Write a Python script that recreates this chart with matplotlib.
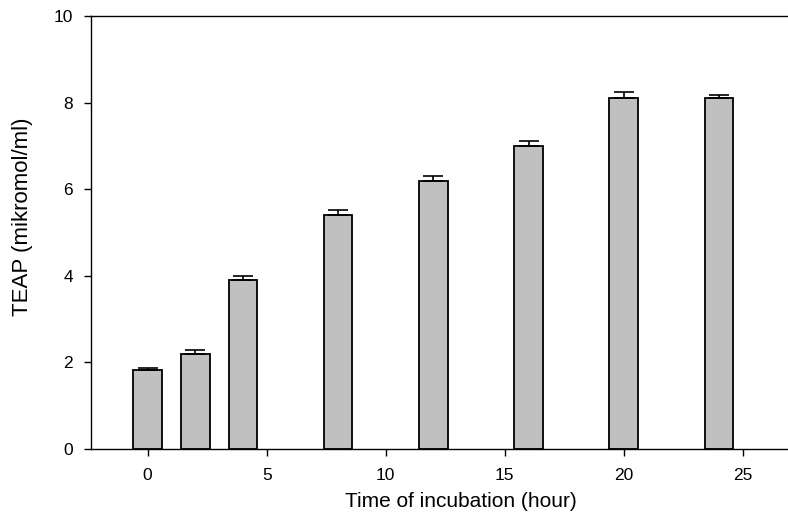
import matplotlib
matplotlib.use('Agg')
import matplotlib.pyplot as plt
import numpy as np

plt.rcParams['font.family'] = ['Liberation Sans', 'DejaVu Sans']

# data
hours = [0, 2, 4, 8, 12, 16, 20, 24]
teap = [1.82, 2.20, 3.90, 5.40, 6.20, 7.00, 8.10, 8.10]
teap_err = [0.05, 0.09, 0.10, 0.11, 0.10, 0.12, 0.14, 0.08]
xticks = [0, 5, 10, 15, 20, 25]
yticks = [0, 2, 4, 6, 8, 10]

fig = plt.figure(figsize=(7.88, 5.23), dpi=100)
ax = fig.add_axes([0.1155, 0.1415, 0.8845, 0.8279])

ax.bar(hours, teap, width=1.2, color='#c0c0c0', edgecolor='black', linewidth=1.3, zorder=2)
ax.errorbar(hours, teap, yerr=[np.zeros(len(teap_err)), teap_err], fmt='none',
            ecolor='black', elinewidth=1.2, capsize=7.5, capthick=1.2, zorder=3)

ax.set_xlim(-2.38, 26.9)
ax.set_ylim(0, 10)
ax.set_xticks(xticks)
ax.set_yticks(yticks)

ax.spines['right'].set_visible(False)
for s in ['left', 'bottom', 'top']:
    ax.spines[s].set_linewidth(1.0)

ax.tick_params(direction='out', length=5, width=1.0, labelsize=12.5)
ax.tick_params(axis='x', pad=9)
ax.tick_params(axis='y', pad=8)
ax.set_xlabel('Time of incubation (hour)', fontsize=15)
ax.set_ylabel('TEAP (mikromol/ml)', fontsize=16)
ax.xaxis.set_label_coords(0.531, -0.099)
ax.yaxis.set_label_coords(-0.083, 0.536)

plt.savefig('out.png', dpi=100)
